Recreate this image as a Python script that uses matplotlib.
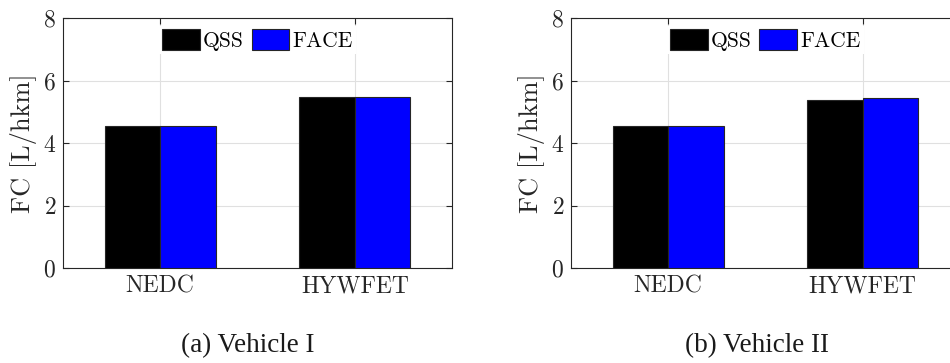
import numpy as np
import matplotlib as mpl
import matplotlib.pyplot as plt

cycles = ["NEDC", "HYWFET"]
series = ["QSS", "FACE"]
veh1_qss = [4.56, 5.46]
veh1_face = [4.56, 5.46]
veh2_qss = [4.53, 5.39]
veh2_face = [4.55, 5.43]
captions = ["(a) Vehicle I", "(b) Vehicle II"]

colors = ["#000000", "#0000ff"]
FS = 17
mpl.rc("font", family="cmr10", size=FS)
mpl.rcParams["axes.formatter.use_mathtext"] = True
mpl.rcParams["axes.unicode_minus"] = False
mpl.rc("mathtext", fontset="cm")

fig = plt.figure(figsize=(9.5, 3.63), dpi=100)
ax1 = fig.add_axes([0.0663, 0.2617, 0.4095, 0.6887])
ax2 = fig.add_axes([0.601, 0.2617, 0.4095, 0.6887])

x = np.arange(1, len(cycles) + 1)
w = 0.285
for ax, qss, face in zip([ax1, ax2], [veh1_qss, veh2_qss],
                         [veh1_face, veh2_face]):
    ax.bar(x - w / 2, qss, w, color=colors[0], ec="0.15", lw=0.8,
           label=series[0], zorder=3)
    ax.bar(x + w / 2, face, w, color=colors[1], ec="0.15", lw=0.8,
           label=series[1], zorder=3)
    ax.set_xlim(0.5, 2.5)
    ax.set_ylim(0, 8)
    ax.set_xticks(x)
    ax.set_xticklabels(cycles)
    ax.set_yticks([0, 2, 4, 6, 8])
    ax.set_ylabel("FC [L/hkm]", color="0.15", fontsize=19, labelpad=4)
    ax.grid(True, color="0.88", lw=0.8, zorder=0)
    ax.tick_params(direction="in", length=4, colors="0.15", top=True,
                   right=True, labelsize=FS, pad=5)
    for s in ax.spines.values():
        s.set_color("0.15")
        s.set_linewidth(0.8)
    leg = ax.legend(loc="upper center", ncol=2, frameon=True, fontsize=15.5,
                    handlelength=1.75, handleheight=1.15, columnspacing=0.35,
                    handletextpad=0.15, borderaxespad=0.35, borderpad=0.15)
    leg.get_frame().set_edgecolor("none")
    leg.get_frame().set_facecolor("white")
    leg.get_frame().set_alpha(1)
    leg.get_frame().set_boxstyle("square", pad=0)

fig.text(0.261, 0.047, captions[0], ha="center", va="center", fontsize=19.5,
         family="Liberation Serif", color="0.1")
fig.text(0.797, 0.047, captions[1], ha="center", va="center", fontsize=19.5,
         family="Liberation Serif", color="0.1")

fig.savefig("out.png", dpi=100)
